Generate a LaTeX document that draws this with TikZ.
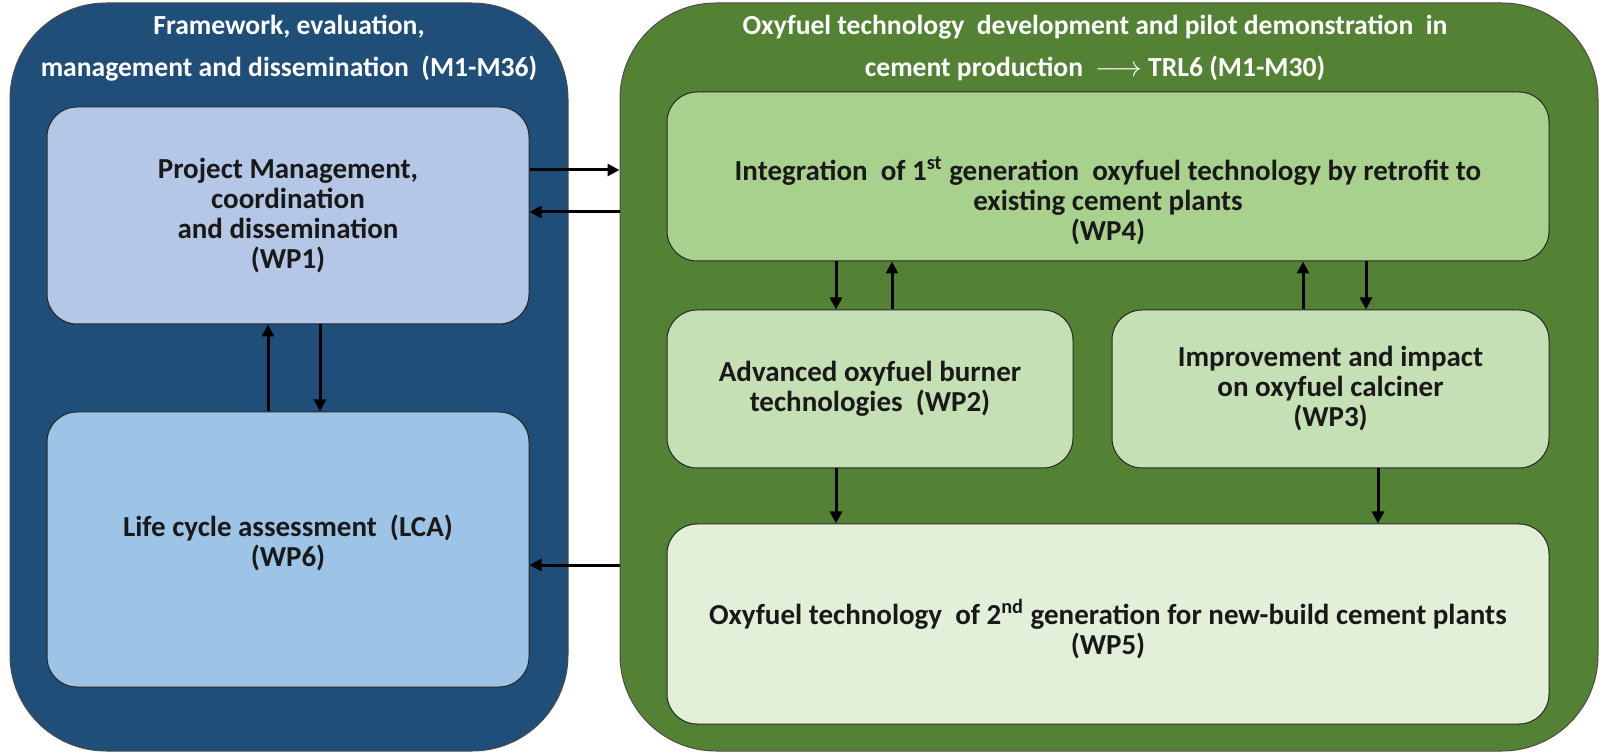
\documentclass[tikz,border=0pt]{standalone}
\usepackage{fontspec}
\setmainfont{Carlito}
\usetikzlibrary{arrows.meta}

\definecolor{frameblue}{HTML}{1F4E79}
\definecolor{wpblue}{HTML}{B4C7E7}
\definecolor{lcablue}{HTML}{9DC3E6}
\definecolor{oxygreen}{HTML}{548235}
\definecolor{wpgreenA}{HTML}{A9D18E}
\definecolor{wpgreenB}{HTML}{C5E0B4}
\definecolor{wpgreenC}{HTML}{E2F0D9}

\tikzset{
  outer/.style={rounded corners=48pt, draw=black!70, line width=0.5pt, minimum height=374pt},
  title/.style={text=white, font=\bfseries\fontsize{13.8}{21}\selectfont, align=center},
  wp/.style={rounded corners=15pt, draw=black!85, line width=0.5pt, align=center,
    font=\bfseries\fontsize{14.5}{15}\selectfont, text=black!90},
  arr/.style={line width=1.5pt, -{Triangle[length=6pt,width=6pt]}}
}

\begin{document}
\begin{tikzpicture}[x=0.5pt,y=-0.5pt]
    \useasboundingbox (0,0) rectangle (1603,754);

    % outer frames
    \node[outer, fill=frameblue, minimum width=279pt] (frame) at (289,377) {};
    \node[outer, fill=oxygreen, minimum width=489pt] (oxy) at (1109,377) {};
    \node[title] (frame-title) at (289,48) {Framework, evaluation,\\ management and dissemination\ \ (M1-M36)};
    \node[title] (oxy-title) at (1095,48) {Oxyfuel technology\ \ development and pilot demonstration\ \ in\\ cement production\ \ $\longrightarrow$ TRL6 (M1-M30)};

    % work packages, left
    \node[wp, fill=wpblue, minimum width=241pt, minimum height=108.5pt] (wp1) at (288,215.5)
        {Project Management,\\ coordination\\ and dissemination\\ (WP1)};
    \node[wp, fill=lcablue, minimum width=241pt, minimum height=137.5pt] (wp6) at (288,549.5) {};
    \node[wp, draw=none] (wp6-text) at (288,542.5) {Life cycle assessment\ \ (LCA)\\ (WP6)};

    % work packages, right
    \node[wp, fill=wpgreenA, minimum width=441pt, minimum height=84.5pt] (wp4) at (1108,176.5) {};
    \node[wp, draw=none] (wp4-text) at (1108,201)
        {Integration\ \ of 1\textsuperscript{st} generation\ \ oxyfuel technology by retrofit to\\ existing cement plants\\ (WP4)};
    \node[wp, fill=wpgreenB, minimum width=203pt, minimum height=79pt] (wp2) at (870,389)
        {Advanced oxyfuel burner\\ technologies\ \ (WP2)};
    \node[wp, fill=wpgreenB, minimum width=218.5pt, minimum height=79pt] (wp3) at (1330.5,389)
        {Improvement and impact\\ on oxyfuel calciner\\ (WP3)};
    \node[wp, fill=wpgreenC, minimum width=441pt, minimum height=100pt] (wp5) at (1108,624) {};
    \node[wp, draw=none] (wp5-text) at (1108,629)
        {Oxyfuel technology\ \ of 2\textsuperscript{nd} generation for new-build cement plants\\ (WP5)};

    % links
    \draw[arr] ([yshift=22.75pt]wp1.east) -- ([yshift=22.75pt]wp1.east -| oxy.west);
    \draw[arr] ([yshift=1.75pt]wp1.east -| oxy.west) -- ([yshift=1.75pt]wp1.east);
    \draw[arr] ([yshift=-7.75pt]wp6.east -| oxy.west) -- ([yshift=-7.75pt]wp6.east);
    \draw[arr] ([xshift=-10pt]wp6.north) -- ([xshift=-10pt]wp1.south);
    \draw[arr] ([xshift=16pt]wp1.south) -- ([xshift=16pt]wp6.north);

    \draw[arr] ([xshift=-17pt]wp2.north |- wp4.south) -- ([xshift=-17pt]wp2.north);
    \draw[arr] ([xshift=11pt]wp2.north) -- ([xshift=11pt]wp2.north |- wp4.south);
    \draw[arr] ([xshift=-13.75pt]wp3.north) -- ([xshift=-13.75pt]wp3.north |- wp4.south);
    \draw[arr] ([xshift=17.75pt]wp3.north |- wp4.south) -- ([xshift=17.75pt]wp3.north);
    \draw[arr] ([xshift=-17pt]wp2.south) -- ([xshift=-17pt]wp2.south |- wp5.north);
    \draw[arr] ([xshift=23.75pt]wp3.south) -- ([xshift=23.75pt]wp3.south |- wp5.north);
\end{tikzpicture}
\end{document}
